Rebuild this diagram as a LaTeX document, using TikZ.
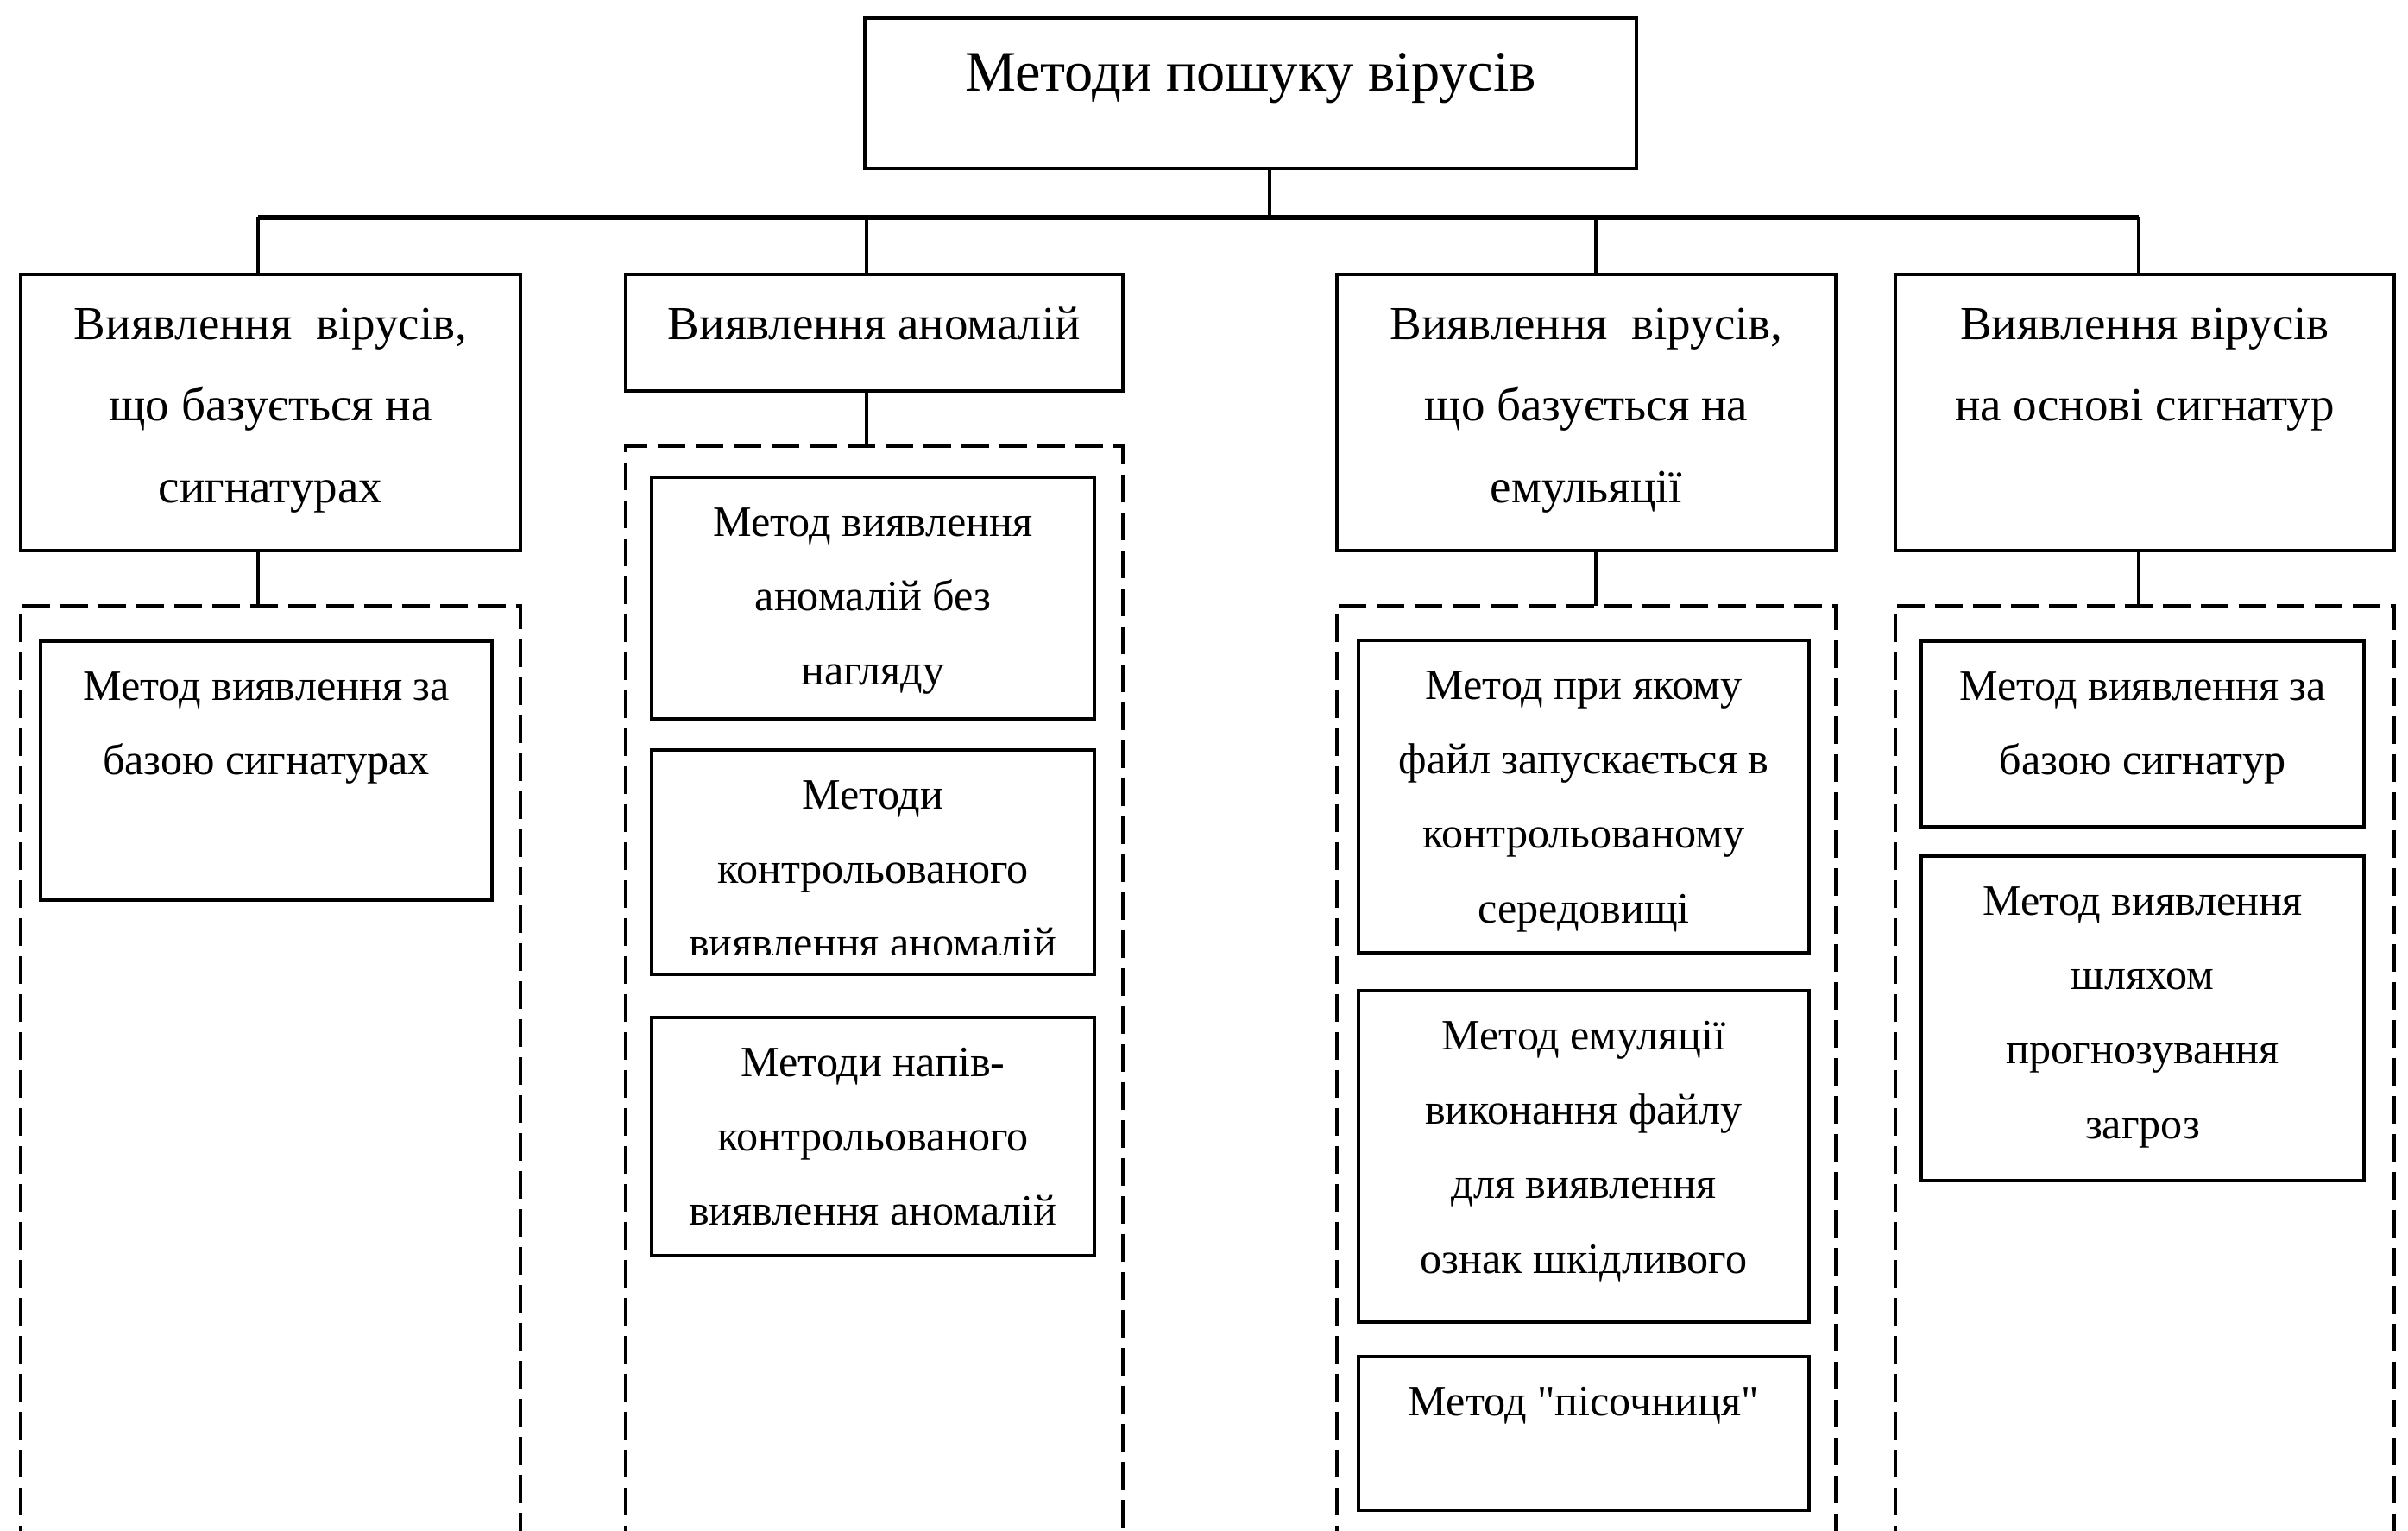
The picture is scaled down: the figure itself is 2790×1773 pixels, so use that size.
\documentclass[tikz,border=0pt]{standalone}
\usepackage{fontspec}
\setmainfont{Liberation Serif}
% same face without the TeX input mapping, so that " stays a straight quote
\newfontfamily\rawquotes{Liberation Serif}
\newcommand{\firstline}{\rule{0pt}{1em}}
\begin{document}
\begin{tikzpicture}[x=0.5pt, y=-0.5pt,
  box/.style={draw, line width=1.75pt, inner sep=0pt, outer sep=0pt, anchor=north west},
  conn/.style={line width=2.3pt},
  bus/.style={line width=2.7pt},
  grp/.style={line width=1.75pt, dash pattern=on 16pt off 6pt},
  toptxt/.style={anchor=north, inner sep=0pt, align=center, font=\fontsize{33.2}{57}\selectfont},
  midtxt/.style={anchor=north, inner sep=0pt, align=center, font=\fontsize{27.5}{47.2}\selectfont},
  subtxt/.style={anchor=north, inner sep=0pt, align=center, font=\fontsize{25.1}{43.2}\selectfont}]
\useasboundingbox (0,0) rectangle (2790,1773);

% root box
\node[box, minimum width=447pt, minimum height=87pt] (top) at (1002,21) {};
\node[toptxt] (top-t) at ([yshift=-9pt]top.north) {\firstline Методи пошуку вірусів};

% second level
\node[box, minimum width=289.5pt, minimum height=160pt] (a) at (24,318) {};
\node[box, minimum width=288pt, minimum height=67.5pt] (b) at (725,318) {};
\node[box, minimum width=289pt, minimum height=160pt] (c) at (1549,318) {};
\node[box, minimum width=289pt, minimum height=160pt] (d) at (2196,318) {};
\node[midtxt] (a-t) at ([yshift=-10pt]a.north) {\firstline Виявлення~ вірусів,\\ що базується на\\ сигнатурах};
\node[midtxt] (b-t) at ([yshift=-10pt]b.north) {\firstline Виявлення аномалій};
\node[midtxt] (c-t) at ([yshift=-10pt]c.north) {\firstline Виявлення~ вірусів,\\ що базується на\\ емульяції};
\node[midtxt] (d-t) at ([yshift=-10pt]d.north) {\firstline Виявлення вірусів\\ на основі сигнатур};

% junctions on the bus and group tops
\coordinate (bus) at (1471,252);
\coordinate (ja) at (299,252);
\coordinate (jb) at (1004,252);
\coordinate (jc) at (1849,252);
\coordinate (jd) at (2478,252);
\coordinate (ga) at (299,702);
\coordinate (gb) at (1004,517);
\coordinate (gc) at (1849,702);
\coordinate (gd) at (2478,702);
\coordinate (floor) at (0,1800);

% tree connectors
\draw[conn] (bus) -- (bus |- top.south);
\draw[bus] (ja) -- (jd);
\draw[conn] (ja) -- (ja |- a.north);
\draw[conn] (jb) -- (jb |- b.north);
\draw[conn] (jc) -- (jc |- c.north);
\draw[conn] (jd) -- (jd |- d.north);
\draw[conn] (ja |- a.south) -- (ga);
\draw[conn] (jb |- b.south) -- (gb);
\draw[conn] (jc |- c.south) -- (gc);
\draw[conn] (jd |- d.south) -- (gd);

% dashed groups, open at the bottom
\draw[grp] (a.west |- floor) -- (a.west |- ga) -- (a.east |- ga) -- (a.east |- floor);
\draw[grp] (b.west |- floor) -- (b.west |- gb) -- (b.east |- gb) -- (b.east |- floor);
\draw[grp] (c.west |- floor) -- (c.west |- gc) -- (c.east |- gc) -- (c.east |- floor);
\draw[grp] (d.west |- floor) -- (d.west |- gd) -- (d.east |- gd) -- (d.east |- floor);

% methods: signatures
\node[box, minimum width=261.5pt, minimum height=150pt] (a1) at (47,743) {};
\node[subtxt] (a1-t) at ([yshift=-8.7pt]a1.north) {\firstline Метод виявлення за\\ базою сигнатурах};

% methods: anomalies
\node[box, minimum width=256.5pt, minimum height=140pt] (b1) at (755,553) {};
\node[box, minimum width=256.5pt, minimum height=130pt] (b2) at (755,869) {};
\node[box, minimum width=256.5pt, minimum height=138pt] (b3) at (755,1179) {};
\node[subtxt] (b1-t) at ([yshift=-8.7pt]b1.north) {\firstline Метод виявлення\\ аномалій без\\ нагляду};
\begin{scope}
  \clip (b2.north west) rectangle ([yshift=12pt]b2.south east);
  \node[subtxt] (b2-t) at ([yshift=-8.7pt]b2.north) {\firstline Методи\\ контрольованого\\ виявлення аномалій};
\end{scope}
\node[subtxt] (b3-t) at ([yshift=-8.7pt]b3.north) {\firstline Методи напів-\\ контрольованого\\ виявлення аномалій};

% methods: emulation
\node[box, minimum width=261pt, minimum height=181pt] (c1) at (1574,742) {};
\node[box, minimum width=261pt, minimum height=192pt] (c2) at (1574,1148) {};
\node[box, minimum width=261pt, minimum height=89pt] (c3) at (1574,1572) {};
\node[subtxt] (c1-t) at ([yshift=-8.7pt]c1.north) {\firstline Метод при якому\\ файл запускається в\\ контрольованому\\ середовищі};
\node[subtxt] (c2-t) at ([yshift=-8.7pt]c2.north) {\firstline Метод емуляції\\ виконання файлу\\ для виявлення\\ ознак шкідливого};
\node[subtxt] (c3-t) at ([yshift=-8.7pt]c3.north) {\firstline Метод {\rawquotes "}пісочниця{\rawquotes "}};

% methods: signatures (second branch)
\node[box, minimum width=256.5pt, minimum height=107.5pt] (d1) at (2226,743) {};
\node[box, minimum width=256.5pt, minimum height=188pt] (d2) at (2226,992) {};
\node[subtxt] (d1-t) at ([yshift=-8.7pt]d1.north) {\firstline Метод виявлення за\\ базою сигнатур};
\node[subtxt] (d2-t) at ([yshift=-8.7pt]d2.north) {\firstline Метод виявлення\\ шляхом\\ прогнозування\\ загроз};
\end{tikzpicture}
\end{document}
